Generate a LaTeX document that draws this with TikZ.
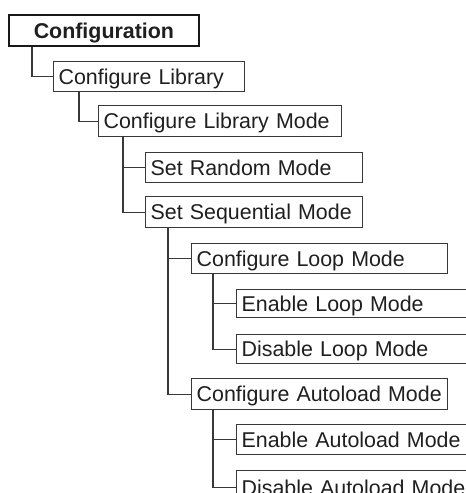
\documentclass[tikz,border=0pt]{standalone}
\usepackage{fontspec}
\setmainfont{Liberation Sans}
\begin{document}
\begin{tikzpicture}[x=1pt,y=-1pt,
  menubox/.style={draw=black!78, line width=1.3pt, fill=white, anchor=north west,
    inner xsep=5pt, inner ysep=0pt, align=left, text=black!88,
    text height=15.3pt, text depth=0pt,
    font=\fontsize{21.4}{24}\selectfont},
  rootbox/.style={menubox, draw=black!90, line width=1.8pt, align=center,
    font=\fontsize{21.4}{24}\selectfont\bfseries},
  link/.style={draw=black!78, line width=1.3pt}]
\useasboundingbox (0,0) rectangle (466,493);
\clip (0,0) rectangle (466,493);

% menu entries, one box each
\node[rootbox, text width=180pt, minimum height=31pt] (cfg)   at (8,14)   {Configuration};
\node[menubox, text width=181pt, minimum height=30pt] (lib)   at (53,61)  {Configure Library};
\node[menubox, text width=233pt, minimum height=31pt] (mode)  at (98,105) {Configure Library Mode};
\node[menubox, text width=207pt, minimum height=30pt] (rnd)   at (145,152) {Set Random Mode};
\node[menubox, text width=207pt, minimum height=31pt] (seq)   at (145,196) {Set Sequential Mode};
\node[menubox, text width=246pt, minimum height=30pt] (loop)  at (191,243) {Configure Loop Mode};
\node[menubox, text width=250pt, minimum height=28pt] (lon)   at (236,289) {Enable Loop Mode};
\node[menubox, text width=250pt, minimum height=29pt] (loff)  at (236,334) {Disable Loop Mode};
\node[menubox, text width=246pt, minimum height=31pt] (auto)  at (191,378) {Configure Autoload Mode};
\node[menubox, text width=250pt, minimum height=30pt] (aon)   at (236,424) {Enable Autoload Mode};
\node[menubox, text width=250pt, minimum height=34pt] (aoff)  at (236,470) {Disable Autoload Mode};

% tree connectors
\draw[link] ([xshift=24pt]cfg.south west)  |- (lib.west);
\draw[link] ([xshift=26pt]lib.south west)  |- (mode.west);
\draw[link] ([xshift=25pt]mode.south west) |- (rnd.west);
\draw[link] ([xshift=25pt]mode.south west) |- (seq.west);
\draw[link] ([xshift=23pt]seq.south west)  |- (loop.west);
\draw[link] ([xshift=23pt]seq.south west)  |- (auto.west);
\draw[link] ([xshift=22pt]loop.south west) |- (lon.west);
\draw[link] ([xshift=22pt]loop.south west) |- (loff.west);
\draw[link] ([xshift=22pt]auto.south west) |- (aon.west);
\draw[link] ([xshift=22pt]auto.south west) |- (aoff.west);
\end{tikzpicture}
\end{document}
